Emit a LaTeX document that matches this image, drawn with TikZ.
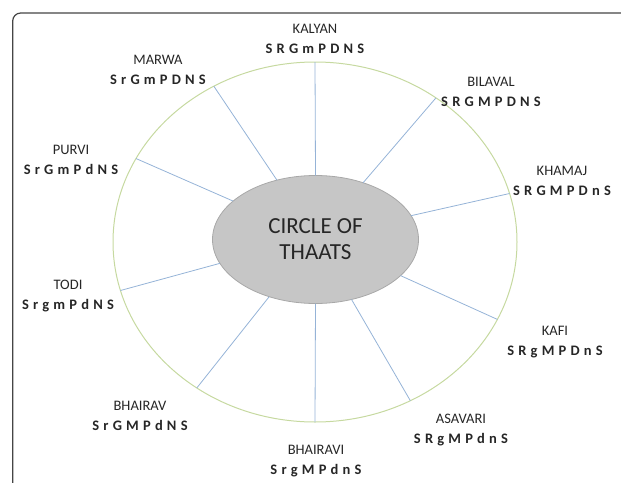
\documentclass[tikz,border=0pt]{standalone}
\usepackage{fontspec}
\setmainfont{Carlito}
\usetikzlibrary{shapes.geometric,positioning}
\definecolor{Ring}{HTML}{C6D9A0}
\definecolor{Spoke}{HTML}{95B3D7}
\definecolor{Hub}{HTML}{C6C6C6}
\definecolor{HubLine}{HTML}{A8A8A8}
\definecolor{Ink}{HTML}{262626}
\definecolor{Frame}{HTML}{454545}
\tikzset{
  hub/.style={ellipse,draw=HubLine,fill=Hub,line width=.8pt,minimum width=206pt,
    minimum height=128pt,inner sep=0pt,outer sep=0pt,align=center,
    font=\fontsize{23}{26}\selectfont,text=Ink},
  ring/.style={ellipse,draw=Ring,line width=1pt,minimum width=404pt,
    minimum height=360pt,inner sep=0pt,outer sep=0pt},
  spoke/.style={draw=Spoke,line width=.8pt},
  thaat/.style={align=center,inner sep=0pt,text=Ink,font=\fontsize{14.5}{20}\selectfont}
}
\newcommand\swaras[1]{{\bfseries\spaceskip=4.2pt\relax #1}}

\begin{document}
\begin{tikzpicture}[x=1pt,y=-1pt]
    \useasboundingbox (0,0) rectangle (621,482);
    \clip (0,0) rectangle (621,482);
    \draw[Frame,line width=1.2pt,rounded corners=8pt] (12.7,520) |- (660,13);

    \node[ring] (ring) at (315,242) {};
    \node[hub] (hub) at (315.5,239.5) {CIRCLE OF\\THAATS};

    % spokes from the hub to the ring
    \foreach \a in {90,50.6,14.5,-23.2,-59.5,-90,231.6,194.4,155.7,123.3}
      \draw[spoke] (hub.\a) -- (ring.\a);

    \node[thaat] (kalyan) at (315,39) {KALYAN\\\swaras{S R G m P D N S}};
    \node[thaat] (marwa) at (158,70) {MARWA\\\swaras{S r G m P D N S}};
    \node[thaat] (bilaval) at (491,92) {BILAVAL\\\swaras{S R G M P D N S}};
    \node[thaat] (purvi) at (71,160) {PURVI\\\swaras{S r G m P d N S}};
    \node[thaat] (khamaj) at (562,181) {KHAMAJ\\\swaras{S R G M P D n S}};
    \node[thaat] (todi) at (68,296) {TODI\\\swaras{S r g m P d N S}};
    \node[thaat] (kafi) at (555,342) {KAFI\\\swaras{S R g M P D n S}};
    \node[thaat] (bhairav) at (140,416) {BHAIRAV\\\swaras{S r G M P d N S}};
    \node[thaat] (asavari) at (461,430) {ASAVARI\\\swaras{S R g M P d n S}};
    \node[thaat] (bhairavi) at (316,461) {BHAIRAVI\\\swaras{S r g M P d n S}};
  \end{tikzpicture}
\end{document}
